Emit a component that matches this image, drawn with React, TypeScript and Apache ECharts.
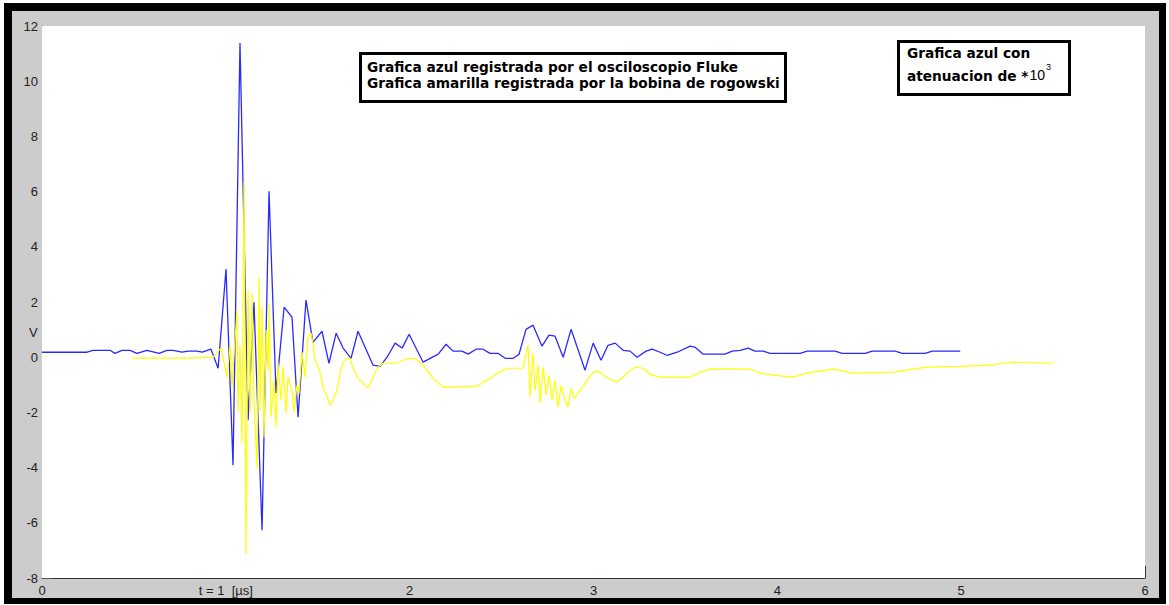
import React, { useEffect, useRef } from "react";
import * as echarts from "echarts";

// Time axis (µs) and values (V)
const blueT = [0.000, 0.098, 0.245, 0.277, 0.370, 0.397, 0.435, 0.479, 0.517, 0.571, 0.637, 0.680, 0.713, 0.762, 0.794, 0.843, 0.871, 0.919, 0.958, 1.001, 1.039, 1.077, 1.121, 1.153, 1.197, 1.235, 1.273, 1.317, 1.360, 1.393, 1.436, 1.474, 1.523, 1.561, 1.600, 1.638, 1.681, 1.719, 1.801, 1.839, 1.877, 1.921, 1.959, 1.997, 2.073, 2.155, 2.198, 2.236, 2.285, 2.318, 2.361, 2.399, 2.437, 2.481, 2.519, 2.563, 2.595, 2.633, 2.671, 2.720, 2.758, 2.791, 2.835, 2.878, 2.954, 2.998, 3.041, 3.079, 3.118, 3.161, 3.199, 3.237, 3.286, 3.319, 3.362, 3.400, 3.455, 3.526, 3.553, 3.596, 3.716, 3.754, 3.798, 3.841, 3.879, 3.923, 3.961, 4.124, 4.162, 4.314, 4.353, 4.478, 4.516, 4.641, 4.679, 4.804, 4.842, 4.995];
const blueV = [0.18, 0.18, 0.18, 0.25, 0.25, 0.14, 0.25, 0.25, 0.14, 0.25, 0.14, 0.25, 0.25, 0.18, 0.22, 0.22, 0.18, 0.29, -0.40, 3.19, -3.91, 11.38, -2.28, 1.99, -6.27, 6.01, -1.30, 1.81, 1.45, -2.17, 2.07, 0.54, 0.94, -0.22, 0.87, 0.33, -0.04, 0.94, -0.29, -0.33, 0.00, 0.51, 0.33, 0.83, -0.18, 0.11, 0.47, 0.22, 0.22, 0.11, 0.29, 0.29, 0.14, 0.14, -0.04, -0.04, 0.11, 1.01, 1.16, 0.40, 0.80, 0.76, 0.00, 1.01, -0.47, 0.51, -0.11, 0.43, 0.51, 0.25, 0.22, 0.00, 0.22, 0.29, 0.18, 0.07, 0.18, 0.40, 0.36, 0.11, 0.11, 0.22, 0.25, 0.33, 0.22, 0.22, 0.14, 0.14, 0.22, 0.22, 0.14, 0.14, 0.22, 0.22, 0.14, 0.14, 0.22, 0.22];

const yellowT = [0.495, 0.805, 0.930, 0.974, 1.007, 1.023, 1.034, 1.045, 1.061, 1.066, 1.077, 1.088, 1.099, 1.110, 1.121, 1.132, 1.143, 1.153, 1.170, 1.181, 1.186, 1.197, 1.208, 1.219, 1.230, 1.235, 1.246, 1.262, 1.273, 1.284, 1.300, 1.311, 1.328, 1.338, 1.360, 1.371, 1.387, 1.398, 1.415, 1.431, 1.447, 1.464, 1.474, 1.485, 1.512, 1.529, 1.551, 1.567, 1.583, 1.605, 1.621, 1.638, 1.659, 1.676, 1.692, 1.719, 1.746, 1.774, 1.801, 1.828, 1.855, 1.931, 1.986, 2.029, 2.073, 2.127, 2.182, 2.367, 2.410, 2.492, 2.530, 2.617, 2.644, 2.655, 2.671, 2.682, 2.699, 2.709, 2.726, 2.742, 2.758, 2.775, 2.791, 2.807, 2.824, 2.845, 2.862, 2.878, 2.894, 2.916, 2.938, 2.965, 2.998, 3.025, 3.079, 3.128, 3.183, 3.226, 3.270, 3.308, 3.362, 3.526, 3.580, 3.634, 3.852, 3.906, 3.977, 4.081, 4.135, 4.195, 4.304, 4.412, 4.630, 4.739, 4.815, 4.995, 5.174, 5.212, 5.283, 5.501];
const yellowV = [-0.03, -0.03, 0.00, 0.33, -0.72, 0.43, -1.09, 0.14, 1.70, -1.99, 0.43, -3.12, 6.34, -7.14, 2.43, -2.03, 2.32, -1.56, -4.06, 2.90, -1.92, 1.81, -2.90, 0.98, -0.47, 1.96, -2.17, -0.83, -2.54, -0.22, -1.56, -0.36, -2.03, -0.72, -1.20, -1.99, -1.01, -1.30, 0.18, -0.72, 0.72, 0.87, 0.51, -0.11, -0.54, -1.09, -1.45, -1.74, -1.56, -1.20, -0.58, -0.18, -0.04, -0.04, -0.40, -0.76, -0.94, -1.12, -0.72, -0.36, -0.22, -0.22, -0.04, -0.04, -0.29, -0.76, -1.09, -1.05, -0.87, -0.54, -0.40, -0.40, 0.43, -1.45, 0.14, -1.20, -0.29, -1.67, -0.36, -1.38, -0.65, -1.56, -0.83, -1.81, -1.01, -1.56, -1.81, -1.12, -1.49, -1.30, -1.12, -0.83, -0.54, -0.51, -0.76, -0.91, -0.58, -0.36, -0.40, -0.62, -0.72, -0.72, -0.54, -0.43, -0.43, -0.58, -0.65, -0.72, -0.62, -0.54, -0.43, -0.58, -0.54, -0.43, -0.36, -0.33, -0.29, -0.22, -0.18, -0.22];

const xTicks = [0, 1, 2, 3, 4, 5, 6];
const yTicks = [-8, -6, -4, -2, 0, 2, 4, 6, 8, 10, 12];

const legendLines = [
  "Grafica azul registrada por el osciloscopio Fluke",
  "Grafica amarilla registrada por la bobina de rogowski",
];
const noteLine1 = "Grafica azul con";
const noteLine2 = "atenuacion de *";

const FONT = "'Liberation Sans', Arial, sans-serif";
const BOLD = "bold 13.7px 'DejaVu Sans', Verdana, sans-serif";

function measure(text: string, font: string): number {
  const c = document.createElement("canvas").getContext("2d");
  if (!c) return text.length * 8;
  c.font = font;
  return c.measureText(text).width;
}

export default function App() {
  const ref = useRef<HTMLDivElement>(null);

  useEffect(() => {
    document.body.style.margin = "0";
    const chart = echarts.init(ref.current!, null, { renderer: "svg" });
    const blueData = blueT.map((t, i) => [t, blueV[i]]);
    const yellowData = yellowT.map((t, i) => [t, yellowV[i]]);
    const noteX = 907;
    const w2 = measure(noteLine2, BOLD);
    const tenFont = `14px ${FONT}`;
    const wTen = measure("10", tenFont);

    chart.setOption({
      animation: false,
      backgroundColor: "#ffffff",
      grid: {
        left: 42,
        top: 26,
        right: 24,
        bottom: 27,
        show: true,
        backgroundColor: "#ffffff",
        borderWidth: 0,
        z: 1,
      },
      xAxis: {
        type: "value",
        min: xTicks[0],
        max: xTicks[xTicks.length - 1],
        interval: 1,
        axisLine: { show: true, onZero: false, lineStyle: { color: "#333", width: 1 } },
        axisTick: { show: true, inside: true, length: 12, lineStyle: { color: "#333" } },
        splitLine: { show: false },
        axisLabel: {
          color: "#222",
          fontFamily: FONT,
          fontSize: 13,
          margin: 6,
          formatter: (v: number) => (v === 1 ? "t = 1  [µs]" : String(v)),
        },
      },
      yAxis: {
        type: "value",
        min: yTicks[0],
        max: yTicks[yTicks.length - 1],
        interval: 2,
        axisLine: { show: true, onZero: false, lineStyle: { color: "#333", width: 1 } },
        axisTick: { show: true, inside: true, length: 10, lineStyle: { color: "#555" } },
        splitLine: { show: false },
        axisLabel: {
          color: "#222",
          fontFamily: FONT,
          fontSize: 13,
          margin: 4,
        },
      },
      graphic: [
        { type: "rect", z: -10, silent: true, shape: { x: 4, y: 3, width: 1162, height: 601 }, style: { fill: "#000" } },
        { type: "rect", z: -9, silent: true, shape: { x: 12, y: 11, width: 1147, height: 587 }, style: { fill: "#cccccc" } },
        { type: "text", z: 10, x: 29, y: 326, style: { text: "V", fill: "#222", font: `13px ${FONT}` } },
        { type: "rect", z: 20, shape: { x: 360.5, y: 53.5, width: 425, height: 48 }, style: { fill: "#fff", stroke: "#000", lineWidth: 3 } },
        { type: "text", z: 21, x: 367, y: 67, style: { text: legendLines[0], fill: "#000", font: BOLD, verticalAlign: "middle" } },
        { type: "text", z: 21, x: 367, y: 83, style: { text: legendLines[1], fill: "#000", font: BOLD, verticalAlign: "middle" } },
        { type: "rect", z: 20, shape: { x: 898.5, y: 41.5, width: 171, height: 53 }, style: { fill: "#fff", stroke: "#000", lineWidth: 3 } },
        { type: "text", z: 21, x: noteX, y: 53, style: { text: noteLine1, fill: "#000", font: BOLD, verticalAlign: "middle" } },
        { type: "text", z: 21, x: noteX, y: 76, style: { text: noteLine2, fill: "#000", font: BOLD, verticalAlign: "middle" } },
        { type: "text", z: 21, x: noteX + w2 + 1, y: 75, style: { text: "10", fill: "#000", font: tenFont, verticalAlign: "middle" } },
        { type: "text", z: 21, x: noteX + w2 + 2 + wTen, y: 67, style: { text: "3", fill: "#000", font: `9px ${FONT}`, verticalAlign: "middle" } },
      ],
      series: [
        {
          type: "line",
          name: "azul",
          data: blueData,
          showSymbol: false,
          symbol: "none",
          lineStyle: { color: "#2a2aff", width: 1.3 },
          z: 3,
        },
        {
          type: "line",
          name: "amarilla",
          data: yellowData,
          showSymbol: false,
          symbol: "none",
          lineStyle: { color: "#ffff00", width: 1.2 },
          z: 4,
        },
      ],
    });
    return () => chart.dispose();
  }, []);

  return (
    <div
      ref={ref}
      style={{ position: "absolute", left: 0, top: 0, width: 1169, height: 605 }}
    />
  );
}
